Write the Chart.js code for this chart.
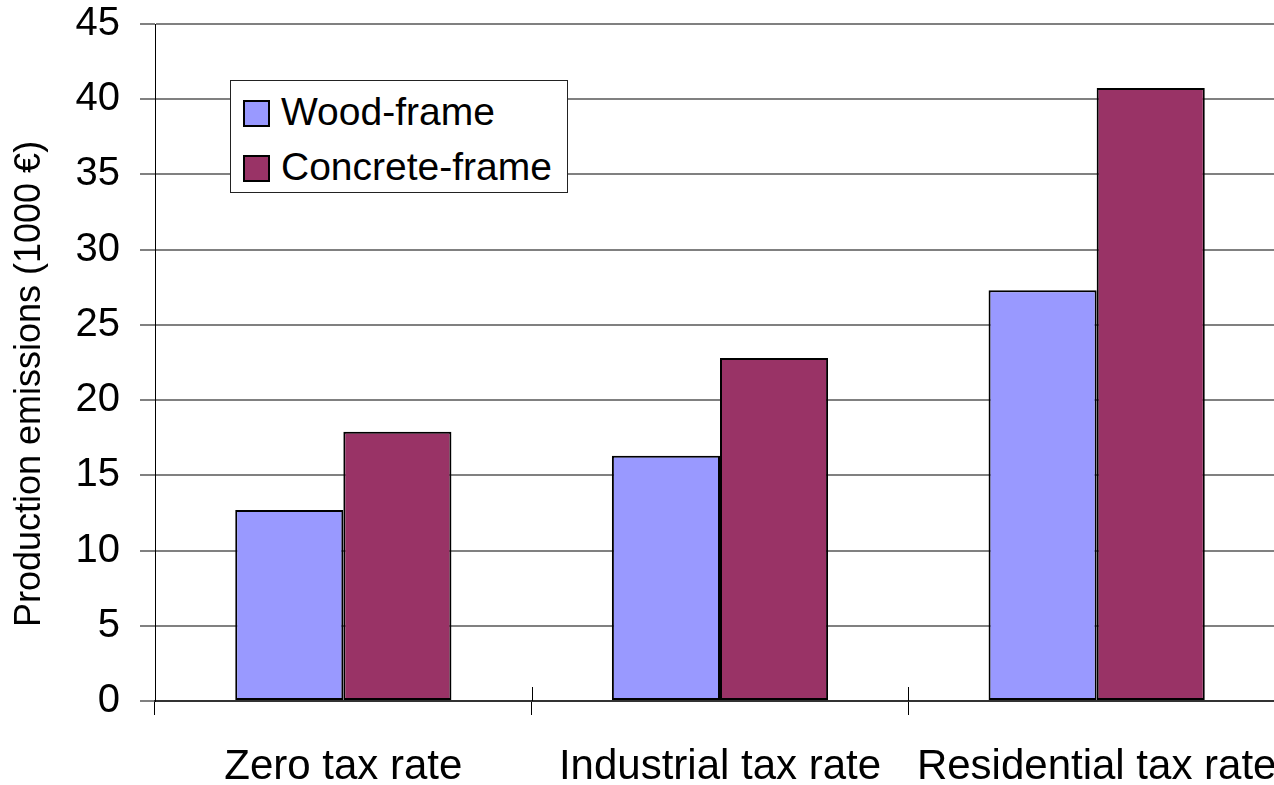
<!DOCTYPE html>
<html>
<head>
<meta charset="utf-8">
<title>Production emissions by tax rate</title>
<script src="https://cdn.jsdelivr.net/npm/chart.js@4/dist/chart.umd.min.js"></script>
<style>
  html, body { margin: 0; padding: 0; background: #fff; }
  body { width: 1274px; height: 785px; overflow: hidden; }
  #wrap { position: relative; width: 1330px; height: 785px; }
  #chart { display: block; }
  #legend {
    position: absolute; left: 230px; top: 80px; width: 338px; height: 113px;
    box-sizing: border-box; border: 1px solid #222; background: #fff;
    font-family: 'Liberation Sans', Arial, sans-serif; font-size: 39px; color: #000;
  }
  #legend .item { position: absolute; left: 12px; height: 27px; display: flex; align-items: center; white-space: nowrap; }
  #legend .sw { width: 27px; height: 27px; box-sizing: border-box; border: 2px solid #000; margin-right: 11px; flex: none; }
  #legend .txt { position: relative; top: -2px; line-height: normal; }
</style>
</head>
<body>
<div id="wrap">
  <canvas id="chart" width="1330" height="785"></canvas>
  <div id="legend"></div>
</div>
<script>
// Categories and series (production emissions, 1000 €)
const categories = ['Zero tax rate', 'Industrial tax rate', 'Residential tax rate'];
const woodFrame = [12.7, 16.3, 27.3];
const concreteFrame = [17.9, 22.8, 40.75];
const seriesNames = ['Wood-frame', 'Concrete-frame'];
const seriesColors = ['#9999FF', '#993366'];
const yTicks = { min: 0, max: 45, step: 5 };
const yTitle = 'Production emissions (1000 €)';

const FONT = "'Liberation Sans', Arial, sans-serif";

// Short upward half of the "cross" tick marks on the category axis
const crossTicks = {
  id: 'crossTicks',
  afterDatasetsDraw(chart) {
    const xs = chart.scales.x, ys = chart.scales.y, ctx = chart.ctx;
    const base = Math.round(ys.getPixelForValue(0));
    ctx.save();
    ctx.strokeStyle = '#000';
    ctx.lineWidth = 1;
    for (let i = 0; i <= categories.length; i++) {
      const px = Math.round(xs.getPixelForValue(i - 0.5)) + 0.5;
      ctx.beginPath();
      ctx.moveTo(px, base - 14);
      ctx.lineTo(px, base);
      ctx.stroke();
    }
    ctx.restore();
  }
};

// Vertical value-axis title, set a little below the axis midpoint
const valueAxisTitle = {
  id: 'valueAxisTitle',
  afterDraw(chart) {
    const ctx = chart.ctx;
    ctx.save();
    ctx.translate(30, 384);
    ctx.rotate(-Math.PI / 2);
    ctx.fillStyle = '#000';
    ctx.font = "36px " + FONT;
    ctx.textAlign = 'center';
    ctx.textBaseline = 'middle';
    ctx.fillText(yTitle, 0, 0);
    ctx.restore();
  }
};

const chart = new Chart(document.getElementById('chart'), {
  type: 'bar',
  data: {
    labels: categories,
    datasets: [
      { label: seriesNames[0], data: woodFrame, backgroundColor: seriesColors[0] },
      { label: seriesNames[1], data: concreteFrame, backgroundColor: seriesColors[1] }
    ]
  },
  options: {
    responsive: false,
    animation: false,
    devicePixelRatio: 1,
    layout: { padding: { top: 24, right: 45, bottom: 0, left: 0 } },
    datasets: {
      bar: {
        borderColor: '#000',
        borderWidth: 2,
        borderSkipped: false,
        barPercentage: 1,
        categoryPercentage: 0.574
      }
    },
    plugins: {
      legend: { display: false },
      tooltip: { enabled: false }
    },
    scales: {
      x: {
        offset: true,
        grid: { offset: true, drawOnChartArea: false, drawTicks: true, tickLength: 14, color: '#000', lineWidth: 1 },
        border: { display: true, color: '#333', width: 2 },
        ticks: {
          autoSkip: false, maxRotation: 0, minRotation: 0, padding: 27,
          color: '#000', font: { family: FONT, size: 42 }
        },
        afterFit(scale) { scale.height = 84; scale.paddingLeft = 0; scale.paddingRight = 0; }
      },
      y: {
        min: yTicks.min, max: yTicks.max,
        grid: { color: '#808080', lineWidth: 2, tickLength: 15, drawTicks: true },
        border: { display: true, color: '#000', width: 1 },
        ticks: {
          stepSize: yTicks.step, padding: 20, color: '#000',
          font: { family: FONT, size: 40 }
        },
        title: { display: false },
        afterFit(scale) { scale.width = 155; scale.paddingTop = 0; scale.paddingBottom = 0; }
      }
    }
  },
  plugins: [crossTicks, valueAxisTitle]
});

// Legend box built from the chart's datasets
const legend = document.getElementById('legend');
const rowTops = [19, 74];
chart.data.datasets.forEach((ds, i) => {
  const item = document.createElement('div');
  item.className = 'item';
  item.style.top = rowTops[i] + 'px';
  const sw = document.createElement('span');
  sw.className = 'sw';
  sw.style.background = ds.backgroundColor;
  const txt = document.createElement('span');
  txt.className = 'txt';
  txt.textContent = ds.label;
  item.appendChild(sw);
  item.appendChild(txt);
  legend.appendChild(item);
});
</script>
</body>
</html>
